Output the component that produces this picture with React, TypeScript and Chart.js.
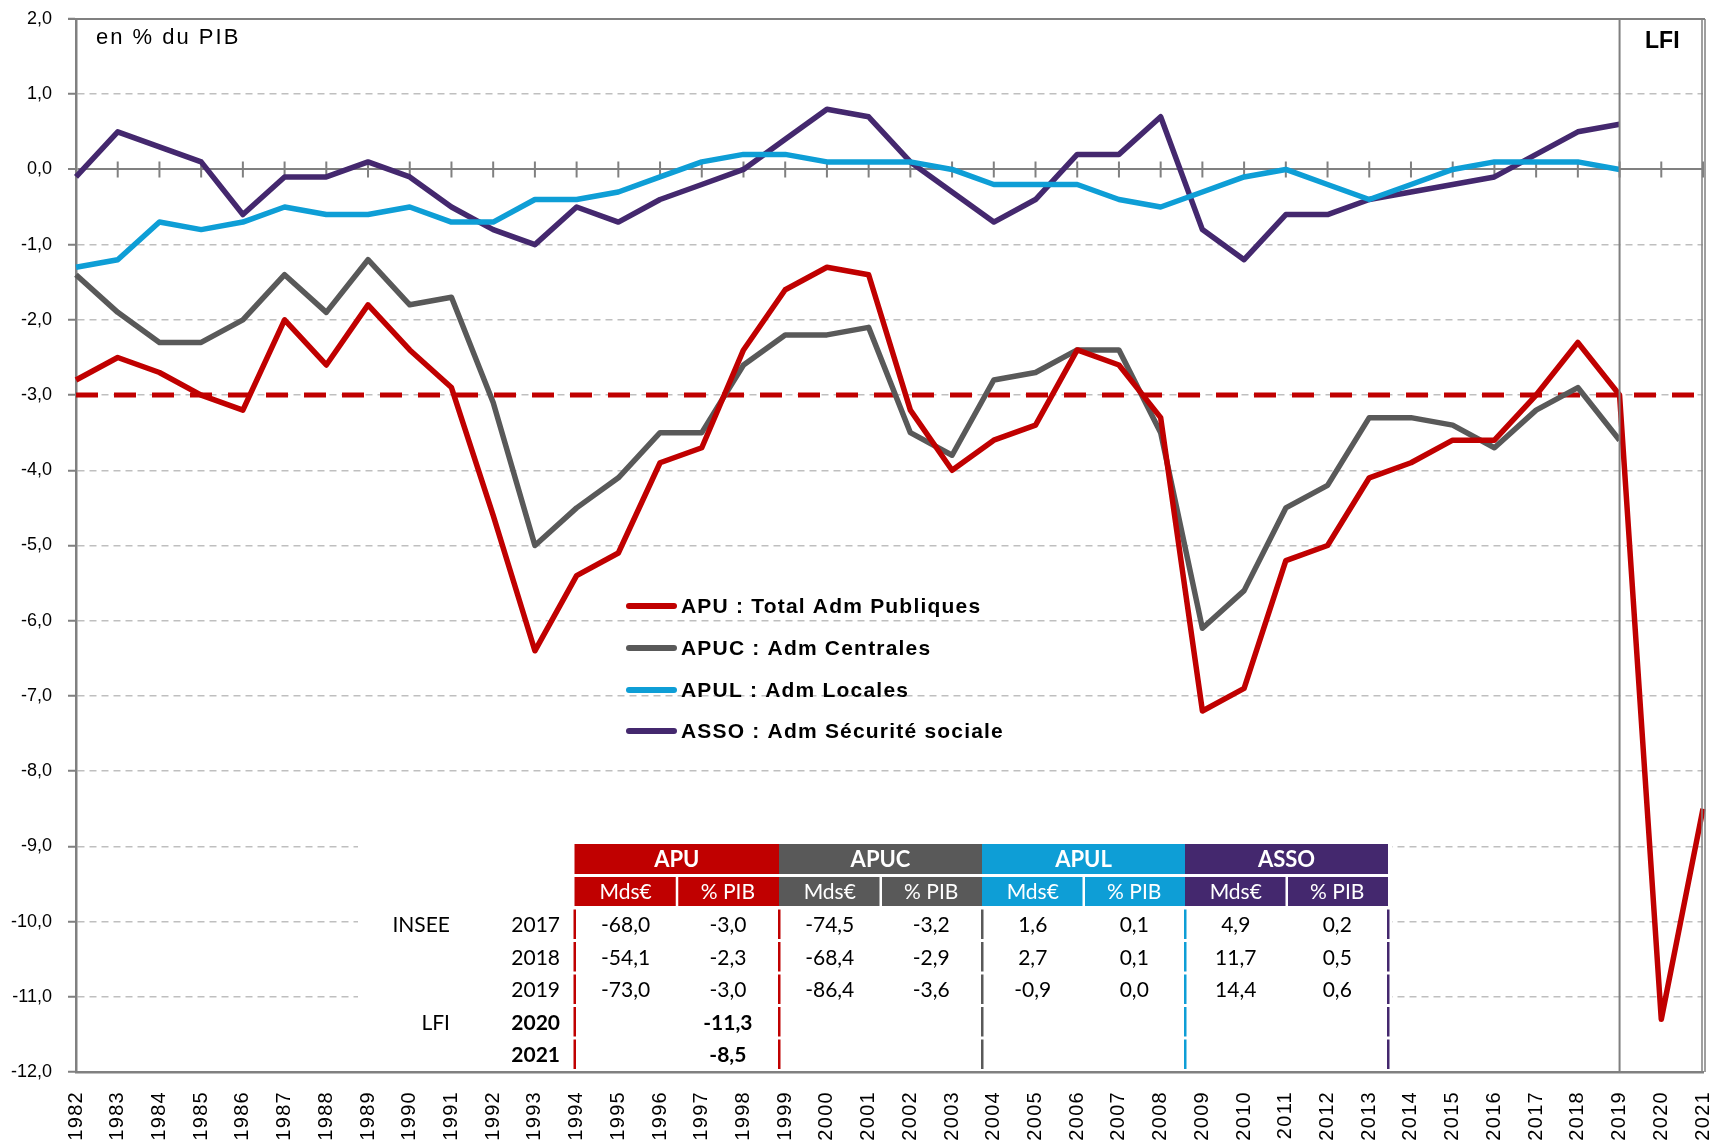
import React, { useEffect, useRef } from 'react';
import { Chart, registerables, CategoryScale } from 'chart.js';

Chart.register(...registerables);

class SpacedCategoryScale extends (CategoryScale as any) {
  drawLabels(area: any) {
    const ctx = (this as any).ctx;
    ctx.save();
    ctx.letterSpacing = '1.3px';
    super.drawLabels(area);
    ctx.restore();
  }
}
(SpacedCategoryScale as any).id = 'spacedCategory';
(SpacedCategoryScale as any).defaults = (CategoryScale as any).defaults;
Chart.register(SpacedCategoryScale as any);

// ---------- DATA ----------
const YEARS = [
  '1982', '1983', '1984', '1985', '1986', '1987', '1988', '1989', '1990', '1991',
  '1992', '1993', '1994', '1995', '1996', '1997', '1998', '1999', '2000', '2001',
  '2002', '2003', '2004', '2005', '2006', '2007', '2008', '2009', '2010', '2011',
  '2012', '2013', '2014', '2015', '2016', '2017', '2018', '2019', '2020', '2021',
];

const APU = [
  -2.8, -2.5, -2.7, -3.0, -3.2, -2.0, -2.6, -1.8, -2.4, -2.9,
  -4.6, -6.4, -5.4, -5.1, -3.9, -3.7, -2.4, -1.6, -1.3, -1.4,
  -3.2, -4.0, -3.6, -3.4, -2.4, -2.6, -3.3, -7.2, -6.9, -5.2,
  -5.0, -4.1, -3.9, -3.6, -3.6, -3.0, -2.3, -3.0, -11.3, -8.5,
];
const APUC = [
  -1.4, -1.9, -2.3, -2.3, -2.0, -1.4, -1.9, -1.2, -1.8, -1.7,
  -3.1, -5.0, -4.5, -4.1, -3.5, -3.5, -2.6, -2.2, -2.2, -2.1,
  -3.5, -3.8, -2.8, -2.7, -2.4, -2.4, -3.5, -6.1, -5.6, -4.5,
  -4.2, -3.3, -3.3, -3.4, -3.7, -3.2, -2.9, -3.6,
];
const APUL = [
  -1.3, -1.2, -0.7, -0.8, -0.7, -0.5, -0.6, -0.6, -0.5, -0.7,
  -0.7, -0.4, -0.4, -0.3, -0.1, 0.1, 0.2, 0.2, 0.1, 0.1,
  0.1, 0.0, -0.2, -0.2, -0.2, -0.4, -0.5, -0.3, -0.1, 0.0,
  -0.2, -0.4, -0.2, 0.0, 0.1, 0.1, 0.1, 0.0,
];
const ASSO = [
  -0.1, 0.5, 0.3, 0.1, -0.6, -0.1, -0.1, 0.1, -0.1, -0.5,
  -0.8, -1.0, -0.5, -0.7, -0.4, -0.2, 0.0, 0.4, 0.8, 0.7,
  0.1, -0.3, -0.7, -0.4, 0.2, 0.2, 0.7, -0.8, -1.2, -0.6,
  -0.6, -0.4, -0.3, -0.2, -0.1, 0.2, 0.5, 0.6,
];

const THRESHOLD = -3;
const LFI_START_YEAR = '2019';

const SERIES_LABELS = [
  'APU : Total Adm Publiques',
  'APUC : Adm Centrales',
  'APUL : Adm Locales',
  'ASSO : Adm Sécurité sociale',
];

const TABLE_GROUPS = ['APU', 'APUC', 'APUL', 'ASSO'];
const TABLE_SUBHEADERS = ['Mds€', '% PIB'];
const TABLE_SOURCES = ['INSEE', '', '', 'LFI', ''];
const TABLE_YEARS = ['2017', '2018', '2019', '2020', '2021'];
const TABLE_BOLD_ROWS = [false, false, false, true, true];
const APU_MDS = [-68.0, -54.1, -73.0, null, null];
const APU_PIB = [-3.0, -2.3, -3.0, -11.3, -8.5];
const APUC_MDS = [-74.5, -68.4, -86.4, null, null];
const APUC_PIB = [-3.2, -2.9, -3.6, null, null];
const APUL_MDS = [1.6, 2.7, -0.9, null, null];
const APUL_PIB = [0.1, 0.1, 0.0, null, null];
const ASSO_MDS = [4.9, 11.7, 14.4, null, null];
const ASSO_PIB = [0.2, 0.5, 0.6, null, null];

// ---------- STYLE ----------
const RED = '#C00000';
const GRAY = '#595959';
const BLUE = '#0E9ED6';
const PURPLE = '#44286E';
const COLORS = [RED, GRAY, BLUE, PURPLE];
const AXIS_GRAY = '#808080';
const FONT_AXIS = "'Liberation Sans', Arial, sans-serif";
const FONT_TABLE = "Lato, 'Open Sans', sans-serif";

const fmt = (v: number | null) => (v === null || v === undefined ? '' : v.toFixed(1).replace('.', ','));

const decorPlugin = {
  id: 'decor',
  beforeDatasetsDraw(chart: any) {
    const { ctx, chartArea: ca, scales } = chart;
    const x = scales.x;
    const y = scales.y;
    ctx.save();
    // white background of the table (hides gridlines)
    ctx.fillStyle = '#ffffff';
    ctx.fillRect(358, 836, 1392 - 358, ca.bottom - 2 - 836);

    // zero line tick marks
    const y0 = y.getPixelForValue(0);
    ctx.strokeStyle = AXIS_GRAY;
    ctx.lineWidth = 2;
    ctx.beginPath();
    for (let i = 1; i < YEARS.length; i++) {
      const px = x.getPixelForValue(i);
      ctx.moveTo(px, y0 - 8);
      ctx.lineTo(px, y0 + 8);
    }
    ctx.stroke();

    // -3% threshold
    const yt = y.getPixelForValue(THRESHOLD);
    ctx.strokeStyle = RED;
    ctx.lineWidth = 5;
    ctx.setLineDash([22, 16]);
    ctx.beginPath();
    ctx.moveTo(ca.left, yt);
    ctx.lineTo(ca.right, yt);
    ctx.stroke();
    ctx.setLineDash([]);
    ctx.restore();
  },
  afterDatasetsDraw(chart: any) {
    const { ctx, chartArea: ca, scales } = chart;
    const x = scales.x;
    ctx.save();

    // frame: top line, LFI separator, right double border
    ctx.strokeStyle = AXIS_GRAY;
    ctx.lineWidth = 2;
    ctx.beginPath();
    ctx.moveTo(ca.left - 8, ca.top);
    ctx.lineTo(ca.right + 2, ca.top);
    const xl = x.getPixelForValue(YEARS.indexOf(LFI_START_YEAR));
    ctx.moveTo(xl, ca.top);
    ctx.lineTo(xl, ca.bottom);
    ctx.stroke();
    ctx.lineWidth = 1.5;
    ctx.beginPath();
    ctx.moveTo(ca.right - 1, ca.top);
    ctx.lineTo(ca.right - 1, ca.bottom);
    ctx.moveTo(ca.right + 2, ca.top);
    ctx.lineTo(ca.right + 2, ca.bottom);
    ctx.stroke();

    // texts
    ctx.fillStyle = '#000';
    ctx.textBaseline = 'middle';
    ctx.textAlign = 'left';
    ctx.font = `22px ${FONT_AXIS}`;
    (ctx as any).letterSpacing = '2px';
    ctx.fillText('en % du PIB', 96, 38);
    (ctx as any).letterSpacing = '0px';
    ctx.font = `bold 23px ${FONT_AXIS}`;
    ctx.textAlign = 'center';
    ctx.fillText('LFI', (xl + ca.right) / 2 + 1, 42);

    // legend
    const legY = [606, 648, 690, 731];
    ctx.textAlign = 'left';
    ctx.font = `bold 21px ${FONT_AXIS}`;
    (ctx as any).letterSpacing = '1.2px';
    SERIES_LABELS.forEach((lab, i) => {
      ctx.strokeStyle = COLORS[i];
      ctx.lineWidth = 6;
      ctx.lineCap = 'round';
      ctx.beginPath();
      ctx.moveTo(629, legY[i]);
      ctx.lineTo(674, legY[i]);
      ctx.stroke();
      ctx.fillStyle = '#000';
      ctx.fillText(lab, 681, legY[i] + 1);
    });
    (ctx as any).letterSpacing = '0px';
    ctx.lineCap = 'butt';

    // table
    const gx = [574.5, 779, 982, 1185, 1388];
    const hTop = 844;
    const hH = 30;
    const sTop = 877;
    const sH = 29;
    const rTop = 908;
    const rH = 32.5;
    const cols = [APU_MDS, APU_PIB, APUC_MDS, APUC_PIB, APUL_MDS, APUL_PIB, ASSO_MDS, ASSO_PIB];
    TABLE_GROUPS.forEach((g, i) => {
      ctx.fillStyle = COLORS[i];
      ctx.fillRect(gx[i], hTop, gx[i + 1] - gx[i], hH);
      ctx.fillRect(gx[i], sTop, gx[i + 1] - gx[i], sH);
      ctx.fillStyle = '#fff';
      const mid = (gx[i] + gx[i + 1]) / 2;
      ctx.fillRect(mid - 1, sTop, 2.5, sH);
      ctx.textAlign = 'center';
      ctx.font = `bold 22px ${FONT_TABLE}`;
      ctx.fillText(g, mid, hTop + hH / 2 + 1);
      ctx.font = `21px ${FONT_TABLE}`;
      TABLE_SUBHEADERS.forEach((s, k) => {
        const c = gx[i] + (k + 0.5) * (gx[i + 1] - gx[i]) / 2;
        ctx.fillText(s, c, sTop + sH / 2 + 1);
      });
    });
    const sepColors = [RED, RED, GRAY, BLUE, PURPLE];
    for (let r = 0; r < TABLE_YEARS.length; r++) {
      const top = rTop + r * rH;
      sepColors.forEach((c, k) => {
        ctx.fillStyle = c;
        ctx.fillRect(gx[k] - 1, top + 1.5, 2.5, rH - 3);
      });
      const cy = top + rH / 2 + 1;
      ctx.fillStyle = '#000';
      ctx.textAlign = 'right';
      ctx.font = `21px ${FONT_TABLE}`;
      ctx.fillText(TABLE_SOURCES[r], 450, cy);
      ctx.font = `${TABLE_BOLD_ROWS[r] ? 'bold ' : ''}21px ${FONT_TABLE}`;
      ctx.fillText(TABLE_YEARS[r], 560, cy);
      ctx.textAlign = 'center';
      cols.forEach((col, k) => {
        const gi = Math.floor(k / 2);
        const w = (gx[gi + 1] - gx[gi]) / 2;
        const c = gx[gi] + ((k % 2) + 0.5) * w;
        ctx.fillText(fmt(col[r] as any), c, cy);
      });
    }
    ctx.restore();
  },
};

const zeroPad = (s: any) => {
  s.paddingLeft = 0;
  s.paddingRight = 0;
  s.paddingTop = 0;
  s.paddingBottom = 0;
};

export default function App() {
  const ref = useRef<HTMLCanvasElement | null>(null);
  useEffect(() => {
    if (!ref.current) return;
    const mk = (label: string, data: number[], color: string) => ({
      label,
      data,
      borderColor: color,
      backgroundColor: color,
      borderWidth: 5.5,
      borderJoinStyle: 'round',
      pointRadius: 0,
      tension: 0,
      fill: false,
    });
    const chart = new Chart(ref.current, {
      type: 'line',
      data: {
        labels: YEARS,
        datasets: [
          mk(SERIES_LABELS[0], APU, RED),
          mk(SERIES_LABELS[1], APUC, GRAY),
          mk(SERIES_LABELS[2], APUL, BLUE),
          mk(SERIES_LABELS[3], ASSO, PURPLE),
        ],
      },
      options: {
        responsive: false,
        devicePixelRatio: 1,
        animation: false,
        layout: { padding: { top: 19, right: 13, left: 0, bottom: 0 }, autoPadding: false },
        plugins: { legend: { display: false }, tooltip: { enabled: false } },
        scales: {
          x: {
            type: 'spacedCategory',
            offset: false,
            grid: { display: false, drawTicks: false },
            border: { display: true, color: AXIS_GRAY, width: 2.5 },
            ticks: {
              autoSkip: false,
              maxRotation: 90,
              minRotation: 90,
              padding: 19,
              color: '#000',
              font: { family: FONT_AXIS, size: 20 },
            },
            afterFit: (s: any) => { s.height = 69; zeroPad(s); },
          },
          y: {
            min: -12,
            max: 2,
            grid: {
              color: (c: any) => (c.tick && c.tick.value === 0 ? AXIS_GRAY : '#BFBFBF'),
              lineWidth: (c: any) => (c.tick && c.tick.value === 0 ? 2 : 1.5),
              tickColor: AXIS_GRAY,
              tickLength: 8,
              tickWidth: 2,
              tickBorderDash: [],
            },
            border: {
              display: true,
              color: AXIS_GRAY,
              width: 2.5,
              dash: (c: any) => (c.tick && c.tick.value !== 0 ? [7, 5] : []),
            },
            ticks: {
              stepSize: 1,
              padding: 16,
              color: '#000',
              font: { family: FONT_AXIS, size: 18 },
              callback: (v: any) => fmt(Number(v)),
            },
            afterFit: (s: any) => { s.width = 76; zeroPad(s); },
          },
        },
      },
      plugins: [decorPlugin],
    } as any);
    return () => chart.destroy();
  }, []);
  return (
    <div style={{ position: 'fixed', left: 0, top: 0, width: 1716, height: 1141, background: '#fff' }}>
      <canvas ref={ref} width={1716} height={1141} style={{ display: 'block' }} />
    </div>
  );
}
